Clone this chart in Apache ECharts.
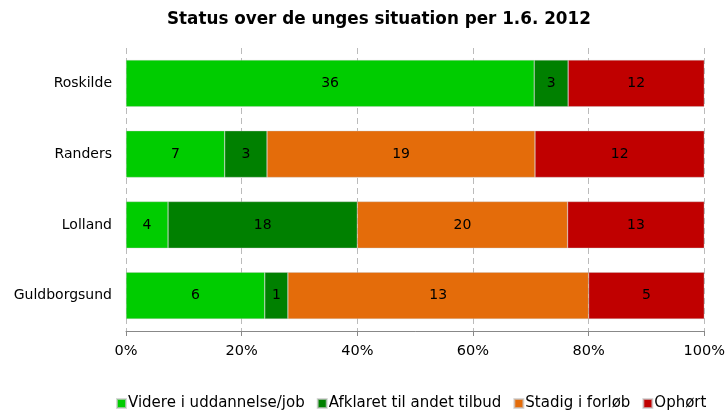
<!DOCTYPE html>
<html><head><meta charset="utf-8">
<script src="https://cdn.jsdelivr.net/npm/echarts@6/dist/echarts.min.js"></script>
<style>html,body{margin:0;padding:0;background:#fff}#c{width:728px;height:410px}</style>
</head><body><div id="c"></div>
<script>
const categories = ['Guldborgsund', 'Lolland', 'Randers', 'Roskilde'];
const seriesNames = ['Videre i uddannelse/job', 'Afklaret til andet tilbud', 'Stadig i forløb', 'Ophørt'];
const videre = [6, 4, 7, 36];
const afklaret = [1, 18, 3, 3];
const stadig = [13, 20, 19, 0];
const ophort = [5, 13, 12, 12];
const colors = ['#00cc00', '#008000', '#e46c0a', '#c00000'];
const tickLabels = ['0%', '20%', '40%', '60%', '80%', '100%'];

const raw = [videre, afklaret, stadig, ophort];
const totals = categories.map((_, i) => raw.reduce((s, a) => s + a[i], 0));
const font = 'DejaVu Sans, Verdana, sans-serif';

const chart = echarts.init(document.getElementById('c'));
chart.setOption({
  animation: false,
  title: { text: 'Status over de unges situation per 1.6. 2012', left: 162, top: 6,
    textStyle: { fontFamily: font, fontSize: 16.8, fontWeight: 'bold', color: '#000' } },
  legend: { top: 391, left: 111, itemWidth: 9, itemHeight: 9, itemGap: 12, icon: 'rect',
    textStyle: { fontFamily: font, fontSize: 15, color: '#000', padding: [0,0,0,-3] } },
  grid: { left: 126, right: 23, top: 48, bottom: 79, containLabel: false },
  xAxis: { type: 'value', min: 0, max: 100, interval: 20,
    axisLine: { show: true, lineStyle: { color: '#888' } },
    axisTick: { show: true, length: 5, lineStyle: { color: '#888' } },
    splitLine: { show: true, lineStyle: { color: '#bbb', type: [6, 4] } },
    axisLabel: { fontFamily: font, fontSize: 14.5, color: '#000', margin: 13,
      formatter: v => tickLabels[Math.round(v / 20)] } },
  yAxis: { type: 'category', data: categories,
    axisLine: { show: false }, axisTick: { show: false },
    axisLabel: { fontFamily: font, fontSize: 14, color: '#000', margin: 14 } },
  series: raw.map((arr, k) => ({
    name: seriesNames[k], type: 'bar', stack: 'all', barCategoryGap: '34%',
    itemStyle: { color: colors[k], borderColor: 'rgba(200,200,200,0.7)', borderWidth: 0.5 },
    label: { show: true, position: 'inside', fontFamily: font, fontSize: 14, color: '#000',
      formatter: p => arr[p.dataIndex] > 0 ? String(arr[p.dataIndex]) : '' },
    data: arr.map((v, i) => v / totals[i] * 100)
  }))
});
</script></body></html>
